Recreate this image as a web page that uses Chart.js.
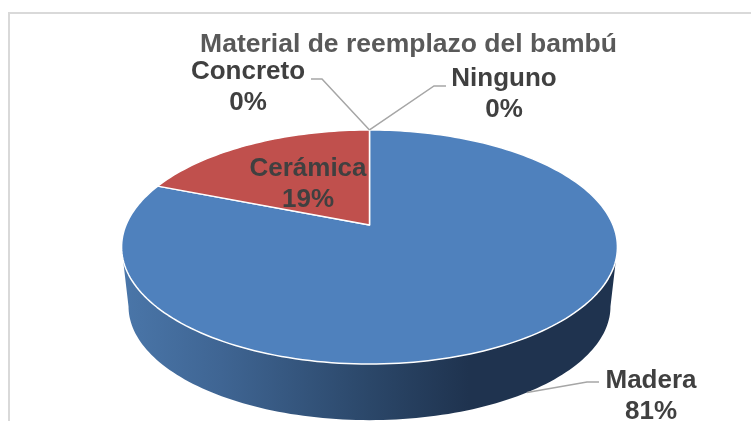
<!DOCTYPE html>
<html lang="es">
<head>
<meta charset="utf-8">
<title>Material de reemplazo del bambú</title>
<script src="https://cdn.jsdelivr.net/npm/chart.js@4/dist/chart.umd.js"></script>
<style>
  html, body { margin: 0; padding: 0; background: #fff; }
  canvas { display: block; }
</style>
</head>
<body>
<canvas id="grafico" width="751" height="421"></canvas>
<script>
'use strict';

/* ── DATOS ── */
var titulo     = 'Material de reemplazo del bambú';
var categorias = ['Madera', 'Cerámica', 'Concreto', 'Ninguno'];
var valores    = [81, 19, 0, 0];
var colores    = ['#4f81bd', '#c0504d', '#9bbb59', '#8064a2'];

/* Etiquetas: centro del texto y codo de la guía (null = sin guía) */
var etiquetasPos = [
  { x: 651, y: 381, guia: [[599, 382], [587, 382]], lateral: true },
  { x: 308, y: 169, guia: null },
  { x: 248, y: 72,  guia: [[311, 79], [322, 79]] },
  { x: 504, y: 79,  guia: [[446, 86], [434, 86]] }
];

/* ── PROYECCION EN PERSPECTIVA DEL DISCO ── */
var APEX_X = 369.5, APEX_Y = 225;
var ESC_X = 243.5, ESC_Y = 112.9, PERSP = 0.188;
var BASE_Y = 285, BASE_ESC = 0.972;

function cara(angulo){
  var u = Math.cos(angulo), v = -Math.sin(angulo), w = 1 + PERSP * v;
  return { x: APEX_X + ESC_X * u / w, y: APEX_Y - ESC_Y * v / w };
}
function base(angulo){
  var u = Math.cos(angulo), v = -Math.sin(angulo), w = 1 + PERSP * v;
  return { x: APEX_X + BASE_ESC * ESC_X * u / w, y: BASE_Y - BASE_ESC * ESC_Y * v / w };
}

function dibujarLateral(ctx){
  var ini = Math.asin(PERSP), fin = Math.PI - ini, N = 120, i, p;
  var grad = ctx.createLinearGradient(122, 0, 617, 0);
  grad.addColorStop(0,    '#4a76a9');
  grad.addColorStop(0.2,  '#3f6593');
  grad.addColorStop(0.5,  '#2b4769');
  grad.addColorStop(0.7,  '#1f334f');
  grad.addColorStop(1,    '#1f334f');
  ctx.beginPath();
  for(i = 0; i <= N; i++){
    p = cara(ini + (fin - ini) * i / N);
    if(i === 0) ctx.moveTo(p.x, p.y); else ctx.lineTo(p.x, p.y);
  }
  for(i = N; i >= 0; i--){
    p = base(ini + (fin - ini) * i / N);
    ctx.lineTo(p.x, p.y);
  }
  ctx.closePath();
  ctx.fillStyle = grad;
  ctx.fill();
}

function dibujarPorcion(ctx, arco, color){
  var pasos = Math.max(2, Math.ceil((arco.endAngle - arco.startAngle) * 40)), i, p;
  ctx.beginPath();
  ctx.moveTo(APEX_X, APEX_Y);
  for(i = 0; i <= pasos; i++){
    p = cara(arco.startAngle + (arco.endAngle - arco.startAngle) * i / pasos);
    ctx.lineTo(p.x, p.y);
  }
  ctx.closePath();
  ctx.fillStyle = color;
  ctx.fill();
  ctx.strokeStyle = '#fff';
  ctx.lineWidth = 1.5;
  ctx.lineJoin = 'round';
  ctx.stroke();
}

/* ── PLUGINS ── */
var pluginMarco = {
  id: 'marco',
  beforeDraw: function(chart){
    var ctx = chart.ctx;
    ctx.save();
    ctx.strokeStyle = '#d9d9d9';
    ctx.lineWidth = 2;
    ctx.beginPath();
    ctx.moveTo(9, 421);
    ctx.lineTo(9, 13);
    ctx.lineTo(751, 13);
    ctx.stroke();
    ctx.restore();
  }
};

var pluginPastel3D = {
  id: 'pastel3d',
  /* false = Chart.js no pinta sus arcos, se pintan proyectados */
  beforeDatasetsDraw: function(chart){
    var ctx = chart.ctx, arcos = chart.getDatasetMeta(0).data;
    ctx.save();
    dibujarLateral(ctx);
    arcos.forEach(function(arco, i){
      if(arco.endAngle - arco.startAngle > 0) dibujarPorcion(ctx, arco, colores[i]);
    });
    ctx.restore();
    return false;
  }
};

var pluginEtiquetas = {
  id: 'etiquetas',
  afterDraw: function(chart){
    var ctx = chart.ctx, arcos = chart.getDatasetMeta(0).data;
    var total = valores.reduce(function(a, b){ return a + b; }, 0);
    ctx.save();
    etiquetasPos.forEach(function(pos, i){
      if(pos.guia){
        var medio = (arcos[i].startAngle + arcos[i].endAngle) / 2;
        var fin = pos.lateral ? base(medio) : cara(medio);
        ctx.beginPath();
        ctx.moveTo(pos.guia[0][0], pos.guia[0][1]);
        ctx.lineTo(pos.guia[1][0], pos.guia[1][1]);
        ctx.lineTo(fin.x, fin.y);
        ctx.strokeStyle = '#a6a6a6';
        ctx.lineWidth = 1.5;
        ctx.stroke();
      }
      ctx.fillStyle = '#404040';
      ctx.font = 'bold 26px "Liberation Sans", Arial, sans-serif';
      ctx.textAlign = 'center';
      ctx.textBaseline = 'middle';
      ctx.fillText(categorias[i], pos.x, pos.y);
      ctx.fillText(Math.round(valores[i] * 100 / total) + '%', pos.x, pos.y + 31);
    });
    ctx.restore();
  }
};

/* ── GRAFICO ── */
new Chart(document.getElementById('grafico'), {
  type: 'pie',
  data: {
    labels: categorias,
    datasets: [{ data: valores, backgroundColor: colores }]
  },
  options: {
    responsive: false,
    animation: false,
    layout: { padding: { left: 66, top: 29 } },
    plugins: {
      legend: { display: false },
      tooltip: { enabled: false },
      title: {
        display: true,
        text: titulo,
        fullSize: false,
        color: '#595959',
        padding: 0,
        font: { family: '"Liberation Sans", Arial, sans-serif', size: 26.5, weight: 'bold', lineHeight: 1.2 }
      }
    }
  },
  plugins: [pluginMarco, pluginPastel3D, pluginEtiquetas]
});
</script>
</body>
</html>
